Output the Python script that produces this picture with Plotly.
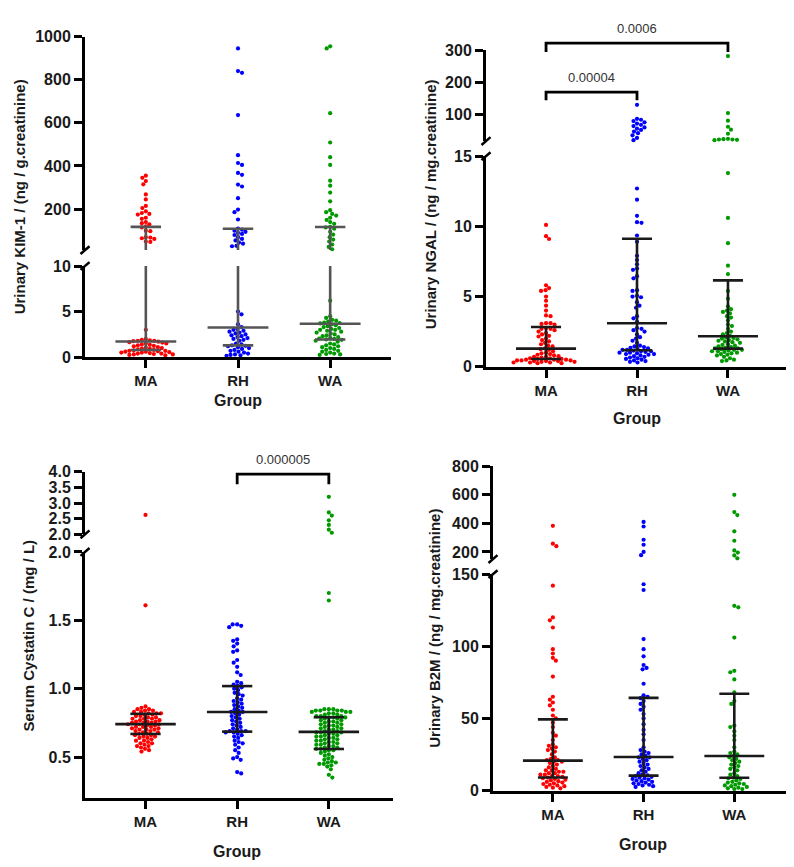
import plotly.graph_objects as go

W, H = 794, 867
GROUPS = ["MA", "RH", "WA"]
COLORS = ["#FF0000", "#0000FF", "#009900"]

# ---------------- Panel 1: Urinary KIM-1 (ng / g.creatinine)
kim1_ma = [355, 345, 330, 315, 268, 245, 215, 205, 190, 182, 178, 175, 160, 155, 140, 135, 130,
           120, 115, 100, 98, 70, 68, 65, 62, 50, 48,
           3.0, 2.0, 1.9, 1.85, 1.8, 1.8, 1.75, 1.7, 1.65, 1.6, 1.5, 1.5, 1.4, 1.35, 1.3, 1.25,
           1.2, 1.1, 1.05, 1.0, 0.95, 0.9, 0.85, 0.8, 0.75, 0.7, 0.7, 0.65, 0.6, 0.6, 0.55, 0.5,
           0.5, 0.45, 0.4, 0.4, 0.35, 0.3, 0.3, 0.25, 0.2]
kim1_rh = [945, 840, 832, 636, 450, 414, 405, 368, 359, 314, 305, 251, 198, 186, 152, 110, 105,
           100, 95, 90, 85, 80, 70, 62, 55, 45, 40, 30, 28,
           5.0, 4.7, 3.6, 3.3, 3.1, 3.0, 2.9, 2.8, 2.7, 2.6, 2.5, 2.4, 2.3, 2.2, 2.1, 2.0, 1.9,
           1.8, 1.5, 1.4, 1.3, 1.25, 1.2, 1.1, 1.0, 0.9, 0.8, 0.7, 0.6, 0.5, 0.4, 0.3, 0.25,
           0.2, 0.15]
kim1_wa = [955, 945, 645, 509, 441, 405, 332, 309, 277, 236, 195, 186, 178, 170, 160, 150, 140,
           132, 118, 115, 109, 95, 82, 70, 59, 50, 36, 25, 14,
           6.2, 4.5, 4.3, 4.1, 4.0, 3.9, 3.8, 3.75, 3.7, 3.6, 3.5, 3.4, 3.3, 3.2, 3.1, 3.0, 3.0,
           2.9, 2.8, 2.7, 2.6, 2.5, 2.4, 2.3, 2.2, 2.1, 2.05, 2.0, 1.95, 1.9, 1.8, 1.7, 1.5,
           1.4, 1.3, 1.2, 1.1, 1.0, 0.9, 0.8, 0.7, 0.6, 0.5, 0.4, 0.35, 0.3, 0.25]
kim1_median = [1.72, 3.26, 3.66]
kim1_q1 = [0.78, 1.29, 1.94]
kim1_q3 = [118, 109, 117]
kim1_upper_ticks = [200, 400, 600, 800, 1000]
kim1_lower_ticks = [0, 5, 10]

# ---------------- Panel 2: Urinary NGAL (ng / mg.creatinine)
ngal_ma = [10.1, 9.3, 9.1, 5.8, 5.6, 5.45, 5.4, 5.0, 4.7, 4.35, 4.0, 3.65, 3.6, 3.1, 3.1, 3.05,
           3.0, 2.75, 2.7, 2.7, 2.6, 2.5, 2.4, 2.3, 2.2, 2.15, 2.0, 1.9, 1.8, 1.7, 1.6, 1.5, 1.45,
           1.3, 1.25, 1.2, 1.1, 1.0, 0.95, 0.9, 0.85, 0.8, 0.75, 0.7, 0.7, 0.65, 0.6, 0.6, 0.55,
           0.55, 0.5, 0.5, 0.5, 0.45, 0.45, 0.45, 0.4, 0.4, 0.4, 0.35, 0.35, 0.3, 0.3, 0.3,
           0.25, 0.25]
ngal_rh = [129, 85, 82, 78, 74, 70, 66, 62, 58, 54, 50, 45, 40, 33, 25, 18,
           12.7, 11.9, 10.75, 10.3, 10.25, 9.35, 8.9, 7.9, 7.6, 7.3, 7.0, 6.9, 6.45, 6.3, 5.45,
           5.4, 5.05, 5.0, 4.95, 4.6, 4.35, 4.2, 3.6, 3.45, 3.2, 2.75, 2.7, 2.6, 2.5, 2.3, 2.1,
           2.0, 1.85, 1.7, 1.5, 1.45, 1.4, 1.35, 1.3, 1.25, 1.2, 1.2, 1.15, 1.1, 1.1, 1.05, 1.0,
           1.0, 0.95, 0.9, 0.9, 0.85, 0.8, 0.75, 0.7, 0.65, 0.6, 0.55, 0.5, 0.45, 0.4, 0.35, 0.3]
ngal_wa = [282, 103, 79, 60, 51, 38, 22, 21, 20, 20, 19, 18,
           13.8, 10.6, 8.8, 7.2, 6.6, 5.4, 4.85, 4.3, 4.1, 4.0, 3.9, 3.8, 3.6, 3.5, 3.3, 3.0,
           2.9, 2.7, 2.5, 2.4, 2.3, 2.2, 2.1, 2.05, 2.0, 1.95, 1.9, 1.85, 1.8, 1.75, 1.7, 1.6,
           1.55, 1.5, 1.45, 1.4, 1.35, 1.3, 1.3, 1.25, 1.2, 1.2, 1.15, 1.1, 1.1, 1.05, 1.0, 0.95,
           0.9, 0.85, 0.8, 0.7, 0.6, 0.5, 0.45, 0.4]
ngal_median = [1.29, 3.1, 2.17]
ngal_q1 = [0.55, 1.17, 1.29]
ngal_q3 = [2.83, 9.12, 6.15]
ngal_upper_ticks = [100, 200, 300]
ngal_lower_ticks = [0, 5, 10, 15]
ngal_pairs = [(0, 1), (0, 2)]
ngal_pvals = ["0.00004", "0.0006"]

# ---------------- Panel 3: Serum Cystatin C (mg / L)
cys_ma = [2.62, 1.61, 0.87, 0.86, 0.85, 0.85, 0.84, 0.84, 0.83, 0.83, 0.82, 0.82, 0.82, 0.81,
          0.81, 0.80, 0.80, 0.79, 0.79, 0.78, 0.78, 0.78, 0.77, 0.77, 0.76, 0.76, 0.76, 0.75,
          0.75, 0.75, 0.74, 0.74, 0.74, 0.73, 0.73, 0.72, 0.72, 0.72, 0.71, 0.71, 0.70, 0.70,
          0.70, 0.69, 0.69, 0.68, 0.68, 0.67, 0.67, 0.66, 0.66, 0.65, 0.65, 0.64, 0.64, 0.63,
          0.62, 0.62, 0.61, 0.60, 0.60, 0.59, 0.58, 0.58, 0.57, 0.56, 0.55, 0.54]
cys_rh = [1.47, 1.47, 1.46, 1.45, 1.36, 1.35, 1.33, 1.31, 1.28, 1.27, 1.21, 1.19, 1.16, 1.12,
          1.1, 1.05, 1.04, 1.03, 1.02, 1.01, 1.0, 0.99, 0.97, 0.96, 0.95, 0.93, 0.92, 0.91, 0.9,
          0.89, 0.88, 0.87, 0.86, 0.85, 0.84, 0.83, 0.83, 0.82, 0.81, 0.8, 0.79, 0.78, 0.77,
          0.76, 0.75, 0.74, 0.73, 0.72, 0.71, 0.7, 0.69, 0.69, 0.69, 0.68, 0.68, 0.67, 0.66,
          0.65, 0.64, 0.62, 0.61, 0.6, 0.59, 0.57, 0.55, 0.53, 0.5, 0.49, 0.48, 0.39, 0.38]
cys_wa = [3.2, 2.7, 2.6, 2.45, 2.3, 2.15, 2.05, 1.70, 1.645,
          0.85, 0.85, 0.85, 0.84, 0.84, 0.84, 0.84, 0.83, 0.83, 0.83, 0.82, 0.82, 0.81, 0.81,
          0.80, 0.80, 0.80, 0.79, 0.79, 0.79, 0.78, 0.78, 0.77, 0.77, 0.76, 0.76, 0.75, 0.75,
          0.74, 0.74, 0.73, 0.73, 0.72, 0.72, 0.71, 0.71, 0.70, 0.70, 0.69, 0.69, 0.68, 0.68,
          0.68, 0.67, 0.67, 0.66, 0.66, 0.65, 0.65, 0.64, 0.64, 0.63, 0.63, 0.62, 0.62, 0.61,
          0.61, 0.60, 0.60, 0.59, 0.59, 0.58, 0.58, 0.57, 0.57, 0.56, 0.56, 0.55, 0.55, 0.54,
          0.53, 0.52, 0.51, 0.50, 0.49, 0.48, 0.47, 0.46, 0.46, 0.45, 0.45, 0.44, 0.43, 0.41,
          0.37, 0.35]
cys_median = [0.741, 0.829, 0.684]
cys_q1 = [0.669, 0.686, 0.559]
cys_q3 = [0.816, 1.019, 0.791]
cys_upper_ticks = [2.0, 2.5, 3.0, 3.5, 4.0]
cys_lower_ticks = [0.5, 1.0, 1.5, 2.0]
cys_pairs = [(1, 2)]
cys_pvals = ["0.000005"]

# ---------------- Panel 4: Urinary B2M (ng / mg.creatinine)
b2m_ma = [383, 258, 240, 142, 120, 118, 113, 98, 95, 92, 90, 79, 65, 63, 61, 59, 56, 52, 50,
          47, 44, 40, 38, 35, 32, 31, 30, 29, 28, 27, 25, 23, 22, 21, 21, 20, 20, 19, 18, 17,
          16, 15, 14, 14, 13, 13, 12, 12, 11, 11, 10, 10, 9.5, 9, 8.5, 8, 7.5, 7, 6.5, 6, 5.5,
          5, 4.5, 4, 3.5, 3, 2.5, 2, 1.5]
b2m_rh = [410, 378, 285, 250, 200, 177, 143, 139, 105, 98, 93, 87, 85, 84, 74, 66, 65, 64, 62,
          60, 58, 56, 53, 50, 46, 42, 39, 35, 30, 28, 27, 26, 25, 24, 23, 23, 22, 21, 20, 19,
          18, 17, 16, 15, 14, 13, 12, 11, 10.5, 10, 9.5, 9, 8.5, 8, 7.5, 7, 6.5, 6, 5.5, 5,
          4.5, 4, 3.5, 3, 2.5]
b2m_wa = [600, 479, 458, 344, 278, 210, 195, 175, 155, 128, 127, 106, 83, 82, 77, 68, 62, 60,
          45, 44, 41, 38, 35, 30, 27, 26, 25, 24, 23, 22, 21, 20, 19, 18, 17, 16, 15, 14, 12,
          11, 10, 9, 8.5, 8, 7, 6, 5.5, 5, 4.5, 4, 3.5, 3, 2.5, 2, 1.5, 1, 1]
b2m_median = [20.7, 23.2, 23.9]
b2m_q1 = [9.0, 10.3, 8.8]
b2m_q3 = [49.3, 64.2, 67.1]
b2m_upper_ticks = [200, 400, 600, 800]
b2m_lower_ticks = [0, 50, 100, 150]

# ---------------- layout geometry (pixels)
panels = [
    dict(data=[kim1_ma, kim1_rh, kim1_wa], med=kim1_median, q1=kim1_q1, q3=kim1_q3,
         xpx=(77, 383), xr=(-0.66, 2.66),
         up_px=(238.8, 21), up_r=(10, 1000), up_t=kim1_upper_ticks, up_fmt="{:g}",
         lo_px=(348, 255), lo_r=(0, 10), lo_t=kim1_lower_ticks, lo_fmt="{:g}", brk=10,
         ytitle="Urinary KIM-1 / (ng / g.creatinine)", ytpos=(11, 185), xtpos=(230, 392),
         lcol="#555555", pairs=[], pv=[], br_y=[]),
    dict(data=[ngal_ma, ngal_rh, ngal_wa], med=ngal_median, q1=ngal_q1, q3=ngal_q3,
         xpx=(478, 780), xr=(-0.66, 2.66),
         up_px=(127.6, 35), up_r=(15, 300), up_t=ngal_upper_ticks, up_fmt="{:g}",
         lo_px=(357.7, 143), lo_r=(0, 15), lo_t=ngal_lower_ticks, lo_fmt="{:g}", brk=15,
         ytitle="Urinary NGAL / (ng / mg.creatinine)", ytpos=(422, 192), xtpos=(629, 411),
         lcol="#1a1a1a", pairs=ngal_pairs, pv=ngal_pvals, br_y=[(77.7, 86, 62.7), (27.7, 36.7, 12.7)]),
    dict(data=[cys_ma, cys_rh, cys_wa], med=cys_median, q1=cys_q1, q3=cys_q3,
         xpx=(77, 385), xr=(-0.66, 2.70),
         up_px=(528.7, 465), up_r=(2.0, 4.0), up_t=cys_upper_ticks, up_fmt="{:.1f}",
         lo_px=(797.7, 546.7), lo_r=(0.2, 2.0), lo_t=cys_lower_ticks, lo_fmt="{:.1f}", brk=2.0,
         ytitle="Serum Cystatin C / (mg / L)", ytpos=(21, 632), xtpos=(229, 852),
         lcol="#1a1a1a", pairs=cys_pairs, pv=cys_pvals, br_y=[(467.3, 477.7, 452.7)]),
    dict(data=[b2m_ma, b2m_rh, b2m_wa], med=b2m_median, q1=b2m_q1, q3=b2m_q3,
         xpx=(485, 788), xr=(-0.66, 2.68),
         up_px=(553.9, 459.3), up_r=(150, 800), up_t=b2m_upper_ticks, up_fmt="{:g}",
         lo_px=(790, 569.3), lo_r=(0, 150), lo_t=b2m_lower_ticks, lo_fmt="{:g}", brk=150,
         ytitle="Urinary B2M / (ng / mg.creatinine)", ytpos=(427, 624), xtpos=(635, 845),
         lcol="#1a1a1a", pairs=[], pv=[], br_y=[]),
]

FONT = "Liberation Sans, Arial, sans-serif"
TXT = "#1a1a1a"


def px_x(px):
    return px / W


def px_y(px):
    return 1 - px / H


def ypix(cfg, v):
    if v > cfg["brk"]:
        (b, t), (r0, r1) = cfg["up_px"], cfg["up_r"]
    else:
        (b, t), (r0, r1) = cfg["lo_px"], cfg["lo_r"]
    return b + (v - r0) / (r1 - r0) * (t - b)


def swarm(ys, d):
    order = sorted(range(len(ys)), key=lambda i: ys[i])
    placed = []
    off = [0.0] * len(ys)
    for n, i in enumerate(order):
        y = ys[i]
        near = [(a, b) for (a, b) in placed if abs(b - y) < d]
        step = 0
        chosen = None
        while chosen is None:
            if step == 0:
                cands = [0.0]
            else:
                s = step * 0.5
                cands = [s, -s] if n % 2 == 0 else [-s, s]
            for c in cands:
                if all((c - a) ** 2 + (y - b) ** 2 >= d * d for a, b in near):
                    chosen = c
                    break
            step += 1
        off[i] = chosen
        placed.append((chosen, y))
    return off


fig = go.Figure()
layout = dict(width=W, height=H, margin=dict(l=0, r=0, t=0, b=0), showlegend=False,
              paper_bgcolor="white", plot_bgcolor="rgba(0,0,0,0)",
              font=dict(family=FONT, color=TXT))
shapes = []
annotations = []


def axname(n):
    return ("x" if n == 1 else f"x{n}"), ("y" if n == 1 else f"y{n}")


def lkey(kind, n):
    return f"{kind}axis" if n == 1 else f"{kind}axis{n}"


for p, cfg in enumerate(panels):
    nlo, nup = 2 * p + 1, 2 * p + 2
    xlo, ylo = axname(nlo)
    xup, yup = axname(nup)
    xdom = [px_x(cfg["xpx"][0]), px_x(cfg["xpx"][1])]
    common_y = dict(showgrid=False, zeroline=False, showline=True, linewidth=3, linecolor="black",
                    ticks="outside", ticklen=8, tickwidth=2.5, tickcolor="black",
                    tickfont=dict(size=16, family=FONT, color=TXT), fixedrange=True)
    layout[lkey("x", nlo)] = dict(domain=xdom, range=list(cfg["xr"]), anchor=ylo,
                                  tickvals=[0, 1, 2], ticktext=[f"<b>{g}</b>" for g in GROUPS],
                                  showgrid=False, zeroline=False, showline=True, linewidth=3,
                                  linecolor="black", ticks="outside", ticklen=8, tickwidth=2.5,
                                  tickcolor="black", tickfont=dict(size=15, family=FONT, color=TXT),
                                  fixedrange=True)
    layout[lkey("x", nup)] = dict(domain=xdom, range=list(cfg["xr"]), anchor=yup, visible=False,
                                  fixedrange=True)
    layout[lkey("y", nlo)] = dict(domain=[px_y(cfg["lo_px"][0]), px_y(cfg["lo_px"][1])],
                                  range=list(cfg["lo_r"]), anchor=xlo, tickvals=cfg["lo_t"],
                                  ticktext=["<b>" + cfg["lo_fmt"].format(t) + "</b>" for t in cfg["lo_t"]],
                                  **common_y)
    layout[lkey("y", nup)] = dict(domain=[px_y(cfg["up_px"][0]), px_y(cfg["up_px"][1])],
                                  range=list(cfg["up_r"]), anchor=xup, tickvals=cfg["up_t"],
                                  ticktext=["<b>" + cfg["up_fmt"].format(t) + "</b>" for t in cfg["up_t"]],
                                  **common_y)

    ppu = (cfg["xpx"][1] - cfg["xpx"][0]) / (cfg["xr"][1] - cfg["xr"][0])

    # points
    for gi, vals in enumerate(cfg["data"]):
        ys = [ypix(cfg, v) for v in vals]
        offs = swarm(ys, 4.1)
        xs = [gi + o / ppu for o in offs]
        lo_x = [x for x, v in zip(xs, vals) if v <= cfg["brk"]]
        lo_v = [v for v in vals if v <= cfg["brk"]]
        up_x = [x for x, v in zip(xs, vals) if v > cfg["brk"]]
        up_v = [v for v in vals if v > cfg["brk"]]
        mk = dict(size=4.2, color=COLORS[gi], line=dict(width=0))
        fig.add_trace(go.Scatter(x=lo_x, y=lo_v, mode="markers", marker=mk, xaxis=xlo, yaxis=ylo,
                                 cliponaxis=False, hoverinfo="skip"))
        if up_v:
            fig.add_trace(go.Scatter(x=up_x, y=up_v, mode="markers", marker=mk, xaxis=xup,
                                     yaxis=yup, cliponaxis=False, hoverinfo="skip"))

    # median and IQR
    def seg_line(xv, yv, upper):
        fig.add_trace(go.Scatter(x=xv, y=yv, mode="lines",
                                 line=dict(color=cfg["lcol"], width=2.6),
                                 xaxis=xup if upper else xlo, yaxis=yup if upper else ylo,
                                 cliponaxis=False, hoverinfo="skip"))

    for gi in range(3):
        m, a, b = cfg["med"][gi], cfg["q1"][gi], cfg["q3"][gi]
        if b <= cfg["brk"]:
            seg_line([gi, gi], [a, b], False)
        elif a > cfg["brk"]:
            seg_line([gi, gi], [a, b], True)
        else:
            seg_line([gi, gi], [a, cfg["lo_r"][1]], False)
            seg_line([gi, gi], [cfg["up_r"][0], b], True)
        for val, hw in ((m, 0.33), (a, 0.165), (b, 0.165)):
            seg_line([gi - hw, gi + hw], [val, val], val > cfg["brk"])

    # axis break marks
    ax = cfg["xpx"][0]
    for yb in (cfg["up_px"][0], cfg["lo_px"][1]):
        shapes.append(dict(type="line", xref="paper", yref="paper",
                           x0=px_x(ax - 4.5), y0=px_y(yb + 4), x1=px_x(ax + 4.5), y1=px_y(yb - 4),
                           line=dict(color="black", width=2.5)))

    # significance brackets
    for (g0, g1), pv, (yh, yend, ytxt) in zip(cfg["pairs"], cfg["pv"], cfg["br_y"]):
        path = (f"M {g0},{px_y(yend)} L {g0},{px_y(yh)} L {g1},{px_y(yh)} L {g1},{px_y(yend)}")
        shapes.append(dict(type="path", xref=xlo, yref="paper", path=path,
                           line=dict(color="black", width=2.8)))
        annotations.append(dict(x=(g0 + g1) / 2, xref=xlo, y=px_y(ytxt), yref="paper",
                                text=pv, showarrow=False, xanchor="center", yanchor="middle",
                                font=dict(size=13, family=FONT, color="#333333")))

    # titles
    annotations.append(dict(x=px_x(cfg["ytpos"][0]), y=px_y(cfg["ytpos"][1]), xref="paper",
                            yref="paper", text="<b>" + cfg["ytitle"] + "</b>", textangle=-90,
                            showarrow=False, xanchor="center", yanchor="middle",
                            font=dict(size=15, family=FONT, color=TXT)))
    annotations.append(dict(x=px_x(cfg["xtpos"][0]), y=px_y(cfg["xtpos"][1]), xref="paper",
                            yref="paper", text="<b>Group</b>", showarrow=False,
                            xanchor="center", yanchor="middle",
                            font=dict(size=16, family=FONT, color=TXT)))

layout["shapes"] = shapes
layout["annotations"] = annotations
fig.update_layout(**layout)
fig.write_html("out.html")
